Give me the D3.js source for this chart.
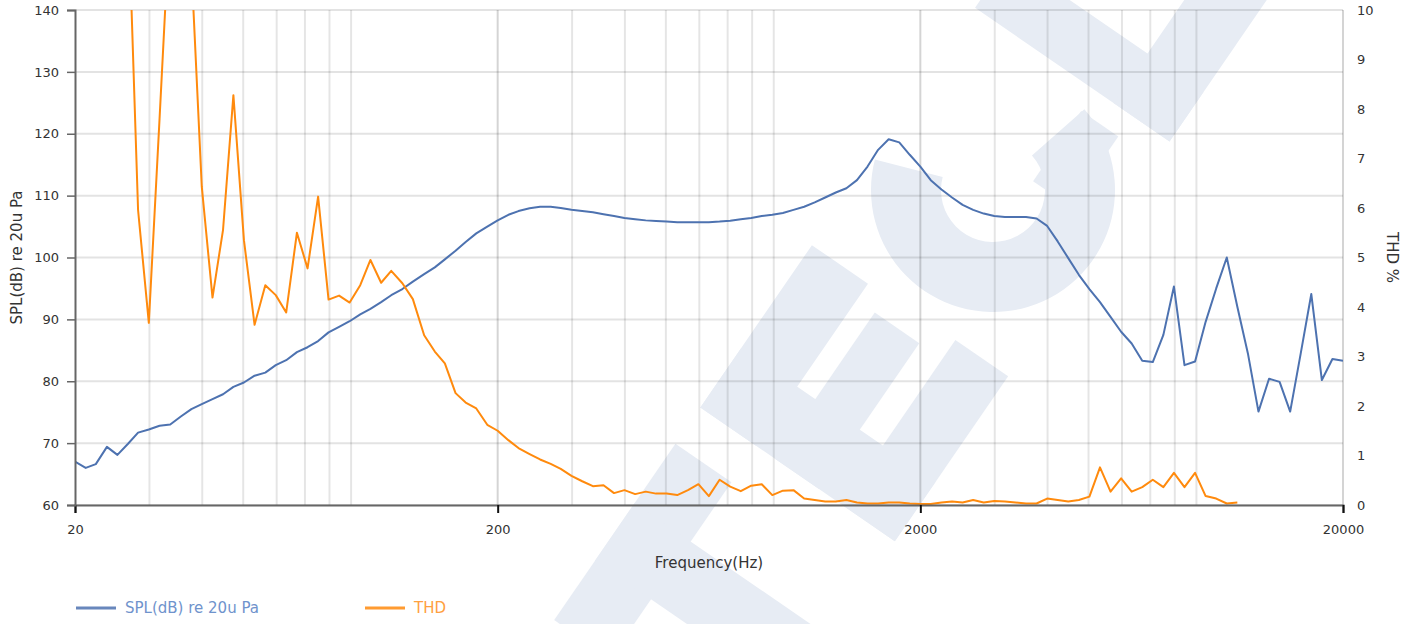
<!DOCTYPE html>
<html>
<head>
<meta charset="utf-8">
<script src="https://cdn.jsdelivr.net/npm/d3@7"></script>
<style>
  body { margin: 0; background: #fff; }
  svg { display: block; font-family: "DejaVu Sans", Verdana, sans-serif; }
</style>
</head>
<body>
<svg></svg>
<script>
// frequency points (Hz), 1/40 decade steps
let freqs = [
  20, 21.2, 22.4, 23.8, 25.2, 26.7, 28.2, 29.9, 31.7, 33.6, 35.6, 37.7, 39.9, 42.3, 44.8, 47.4, 50.2, 53.2, 56.4, 59.7,
  63.2, 67.0, 71.0, 75.2, 79.6, 84.3, 89.3, 94.6, 100, 106, 112, 119, 126, 134, 142, 150, 159, 168, 178, 189,
  200, 212, 224, 238, 252, 267, 282, 299, 317, 336, 356, 377, 399, 423, 448, 474, 502, 532, 564, 597,
  632, 670, 710, 752, 796, 843, 893, 946, 1002, 1062, 1125, 1191, 1262, 1337, 1416, 1500, 1589, 1683, 1783, 1888,
  2000, 2117, 2244, 2377, 2518, 2667, 2825, 2992, 3170, 3358, 3557, 3767, 3991, 4227, 4477, 4743, 5024, 5322, 5637, 5971,
  6325, 6700, 7096, 7517, 7962, 8433, 8934, 9463, 10024, 10618, 11247, 11913, 12619, 13367, 14159, 14998, 15887, 16828, 17825, 18881,
  20000
];

// SPL(dB) re 20u Pa
let spl = [
  67.0, 66.0, 66.6, 69.4, 68.1, 69.9, 71.7, 72.2, 72.8, 73.0, 74.3, 75.5, 76.3, 77.1, 77.9, 79.1, 79.8, 80.9, 81.4, 82.6,
  83.4, 84.7, 85.5, 86.5, 87.9, 88.8, 89.7, 90.8, 91.7, 92.8, 93.9, 94.9, 96.1, 97.3, 98.4, 99.7, 101.1, 102.5, 103.9, 105.0,
  106.0, 106.9, 107.5, 107.95, 108.2, 108.2, 108.0, 107.7, 107.5, 107.3, 107.0, 106.7, 106.4, 106.2, 106.0, 105.9, 105.8, 105.7, 105.7, 105.7,
  105.7, 105.8, 105.95, 106.2, 106.4, 106.7, 106.9, 107.2, 107.7, 108.2, 108.9, 109.7, 110.5, 111.2, 112.5, 114.7, 117.4, 119.1, 118.6, 116.6,
  114.7, 112.5, 111.0, 109.7, 108.5, 107.7, 107.1, 106.7, 106.55, 106.55, 106.55, 106.3, 105.1, 102.6, 99.9, 97.2, 94.9, 92.8, 90.4, 88.0,
  86.1, 83.3, 83.1, 87.5, 95.3, 82.6, 83.2, 89.6, 95.0, 100.0, 92.05, 84.5, 75.1, 80.4, 79.9, 75.1, 84.5, 94.1, 80.2, 83.6,
  83.3
];

// THD % (null where no measurement)
let thd = [
  18, 20, 22, 17, 15, 12.2, 5.96, 3.68, 7.8, 12.0, 13.0, 10.9, 6.43, 4.19, 5.56, 8.28, 5.35, 3.64, 4.44, 4.24,
  3.89, 5.50, 4.78, 6.23, 4.15, 4.23, 4.09, 4.44, 4.95, 4.49, 4.73, 4.48, 4.16, 3.43, 3.10, 2.86, 2.26, 2.07, 1.95, 1.62,
  1.50, 1.31, 1.15, 1.03, 0.92, 0.83, 0.73, 0.59, 0.48, 0.38, 0.40, 0.24, 0.30, 0.22, 0.27, 0.23, 0.23, 0.20, 0.30, 0.42,
  0.18, 0.51, 0.37, 0.28, 0.39, 0.42, 0.20, 0.29, 0.30, 0.13, 0.10, 0.07, 0.07, 0.10, 0.05, 0.03, 0.03, 0.05, 0.05, 0.03,
  0.02, 0.02, 0.05, 0.07, 0.05, 0.10, 0.05, 0.08, 0.07, 0.05, 0.03, 0.03, 0.13, 0.10, 0.07, 0.10, 0.17, 0.76, 0.27, 0.54,
  0.27, 0.36, 0.51, 0.36, 0.65, 0.36, 0.65, 0.18, 0.13, 0.03, 0.05, null, null, null, null, null, null, null, null, null,
  null
];

// axis ticks
let xTicks = [20, 200, 2000, 20000];
let xMinorTicks = [30, 40, 50, 60, 70, 80, 90, 300, 400, 500, 600, 700, 800, 900, 3000, 4000, 5000, 6000, 7000, 8000, 9000];
let splTicks = [60, 70, 80, 90, 100, 110, 120, 130, 140];
let thdTicks = [0, 1, 2, 3, 4, 5, 6, 7, 8, 9, 10];

let seriesNames = ['SPL(dB) re 20u Pa', 'THD'];

// canvas and plot area
let width = 1406;
let height = 624;
let plotLeft = 75;
let plotRight = 1343;
let plotTop = 10;
let plotBottom = 505;

let splColor = '#4d72b0';
let thdColor = '#ff8a0d';
let markColor = '#e7ecf4';

let svg = d3.select('svg');
let xScale, splScale, thdScale;

let drawCanvas = () => {
    svg.attr('width', width)
        .attr('height', height);
};

// faint rotated logo lettering behind the chart
let drawWatermark = () => {
    let wm = svg.append('g')
        .attr('id', 'watermark')
        .attr('transform', 'translate(993, 190) rotate(-55.5)')
        .attr('fill', markColor);

    // T
    wm.append('rect').attr('x', -603).attr('y', -118).attr('width', 214).attr('height', 68);
    wm.append('rect').attr('x', -531).attr('y', -118).attr('width', 70).attr('height', 236);

    // E
    wm.append('rect').attr('x', -345).attr('y', -118).attr('width', 72).attr('height', 236);
    wm.append('rect').attr('x', -345).attr('y', -118).attr('width', 197).attr('height', 68);
    wm.append('rect').attr('x', -345).attr('y', -28).attr('width', 177).attr('height', 54);
    wm.append('rect').attr('x', -345).attr('y', 54).attr('width', 200).attr('height', 64);

    // G : ring with a notch, plus crossbar edge
    let ring = d3.arc()
        .innerRadius(52)
        .outerRadius(122)
        .startAngle((104 * Math.PI) / 180)
        .endAngle((2 * Math.PI) - (20 * Math.PI) / 180);
    wm.append('path').attr('d', ring());
    wm.append('rect').attr('x', 30).attr('y', 28).attr('width', 85).attr('height', 45);

    // L
    wm.append('rect').attr('x', 140).attr('y', -118).attr('width', 60).attr('height', 236);
    wm.append('rect').attr('x', 140).attr('y', 50).attr('width', 220).attr('height', 68);
};

let generateScales = () => {
    xScale = d3.scaleLog()
        .domain([20, 20000])
        .range([plotLeft, plotRight]);

    splScale = d3.scaleLinear()
        .domain([60, 140])
        .range([plotBottom, plotTop]);

    thdScale = d3.scaleLinear()
        .domain([0, 10])
        .range([plotBottom, plotTop]);
};

let drawGrid = () => {
    let grid = svg.append('g').attr('id', 'grid');

    // horizontal grid
    grid.selectAll('line.h')
        .data(splTicks)
        .enter()
        .append('line')
        .attr('class', 'h')
        .attr('x1', plotLeft)
        .attr('x2', plotRight)
        .attr('y1', (d) => splScale(d))
        .attr('y2', (d) => splScale(d))
        .attr('stroke', 'rgba(0,0,0,0.11)')
        .attr('stroke-width', 2);

    // minor vertical grid
    grid.selectAll('line.vm')
        .data(xMinorTicks)
        .enter()
        .append('line')
        .attr('class', 'vm')
        .attr('x1', (d) => xScale(d))
        .attr('x2', (d) => xScale(d))
        .attr('y1', plotTop)
        .attr('y2', plotBottom)
        .attr('stroke', 'rgba(0,0,0,0.1)')
        .attr('stroke-width', 2);

    // major vertical grid
    grid.selectAll('line.v')
        .data(xTicks)
        .enter()
        .append('line')
        .attr('class', 'v')
        .attr('x1', (d) => xScale(d))
        .attr('x2', (d) => xScale(d))
        .attr('y1', plotTop)
        .attr('y2', plotBottom)
        .attr('stroke', (d, i) => (i === 0 ? 'none' : 'rgba(0,0,0,0.17)'))
        .attr('stroke-width', 2);
};

let drawLines = () => {
    svg.append('clipPath')
        .attr('id', 'plot-clip')
        .append('rect')
        .attr('x', plotLeft)
        .attr('y', plotTop)
        .attr('width', plotRight - plotLeft)
        .attr('height', plotBottom - plotTop);

    let splLine = d3.line()
        .x((d, i) => xScale(freqs[i]))
        .y((d) => splScale(d));

    let thdLine = d3.line()
        .defined((d) => d !== null)
        .x((d, i) => xScale(freqs[i]))
        .y((d) => thdScale(d));

    let g = svg.append('g').attr('clip-path', 'url(#plot-clip)');

    g.append('path')
        .datum(spl)
        .attr('d', splLine)
        .attr('fill', 'none')
        .attr('stroke', splColor)
        .attr('stroke-width', 2)
        .attr('stroke-linejoin', 'round');

    g.append('path')
        .datum(thd)
        .attr('d', thdLine)
        .attr('fill', 'none')
        .attr('stroke', thdColor)
        .attr('stroke-width', 2)
        .attr('stroke-linejoin', 'round');
};

let generateAxes = () => {
    let xAxis = d3.axisBottom(xScale)
        .tickValues(xTicks)
        .tickFormat(d3.format('d'))
        .tickSize(8)
        .tickPadding(12);

    let yAxis = d3.axisLeft(splScale)
        .tickValues(splTicks)
        .tickSize(8)
        .tickPadding(8);

    let yAxisRight = d3.axisRight(thdScale)
        .tickValues(thdTicks)
        .tickSize(0)
        .tickPadding(14);

    let gx = svg.append('g')
        .attr('id', 'x-axis')
        .attr('transform', `translate(0, ${plotBottom})`)
        .call(xAxis);
    gx.select('.domain').attr('stroke', '#666').attr('stroke-width', 2);
    gx.selectAll('.tick line').attr('stroke', '#111').attr('stroke-width', 2);

    let gy = svg.append('g')
        .attr('id', 'y-axis')
        .attr('transform', `translate(${plotLeft}, 0)`)
        .call(yAxis);
    gy.select('.domain').attr('stroke', '#666').attr('stroke-width', 2);
    gy.selectAll('.tick line').attr('stroke', '#666').attr('stroke-width', 1.5);

    let gr = svg.append('g')
        .attr('id', 'y-axis-right')
        .attr('transform', `translate(${plotRight}, 0)`)
        .call(yAxisRight);
    gr.select('.domain').remove();

    svg.selectAll('.tick text')
        .attr('fill', '#333')
        .style('font-size', '13px')
        .style('font-family', '"DejaVu Sans", Verdana, sans-serif');

    // axis titles
    svg.append('text')
        .attr('transform', `translate(22, ${(plotTop + plotBottom) / 2}) rotate(-90)`)
        .attr('text-anchor', 'middle')
        .attr('fill', '#333')
        .style('font-size', '15px')
        .text('SPL(dB) re 20u Pa');

    svg.append('text')
        .attr('transform', `translate(1387, ${(plotTop + plotBottom) / 2}) rotate(90)`)
        .attr('text-anchor', 'middle')
        .attr('fill', '#333')
        .style('font-size', '15px')
        .text('THD %');

    svg.append('text')
        .attr('x', (plotLeft + plotRight) / 2)
        .attr('y', 568)
        .attr('text-anchor', 'middle')
        .attr('fill', '#333')
        .style('font-size', '15px')
        .text('Frequency(Hz)');
};

let drawLegend = () => {
    let items = [
        { name: seriesNames[0], color: splColor, text: '#6f93cc', x: 76 },
        { name: seriesNames[1], color: thdColor, text: '#ffa040', x: 365 }
    ];
    let lg = svg.append('g').attr('id', 'legend');
    items.forEach((it) => {
        lg.append('line')
            .attr('x1', it.x)
            .attr('x2', it.x + 40)
            .attr('y1', 608)
            .attr('y2', 608)
            .attr('stroke', it.color)
            .attr('stroke-opacity', 0.85)
            .attr('stroke-width', 3);
        lg.append('text')
            .attr('x', it.x + 49)
            .attr('y', 613)
            .attr('fill', it.text)
            .style('font-size', '15px')
            .text(it.name);
    });
};

drawCanvas();
drawWatermark();
generateScales();
drawGrid();
drawLines();
generateAxes();
drawLegend();
</script>
</body>
</html>
